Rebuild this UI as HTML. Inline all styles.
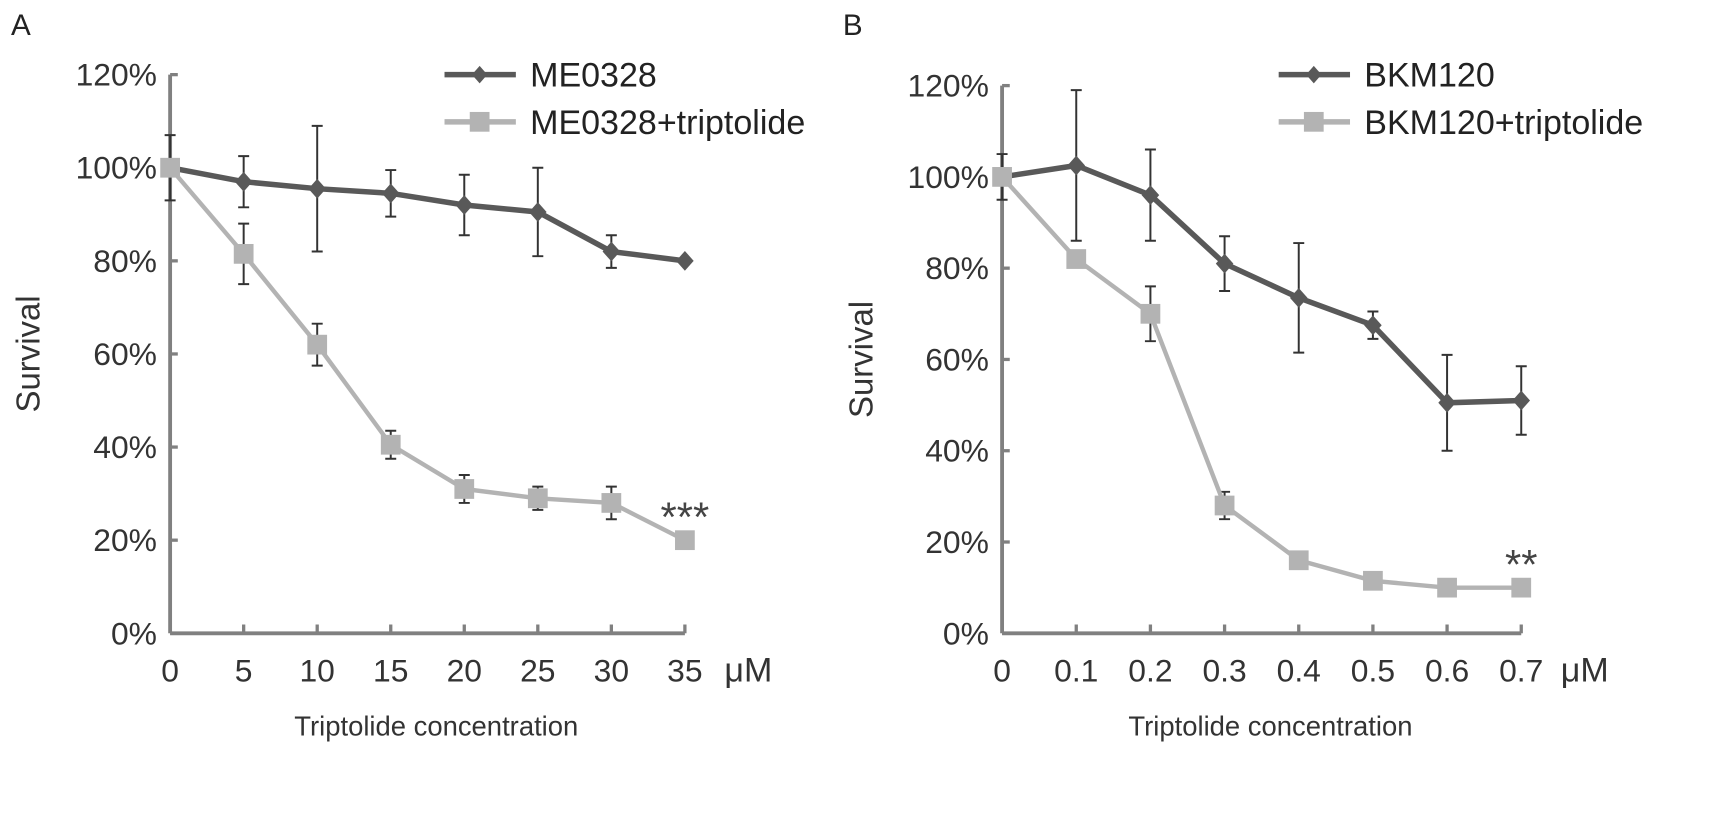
<!DOCTYPE html>
<html><head><meta charset="utf-8"><style>
html,body{margin:0;padding:0;background:#fff;}
svg{display:block;font-family:"Liberation Sans",Arial,sans-serif;}
</style></head><body>
<svg id="chart" width="1721" height="827" viewBox="0 0 1568 753.5" preserveAspectRatio="none" xmlns="http://www.w3.org/2000/svg"></svg>
<script>
const catsA = ["0","5","10","15","20","25","30","35"];
const meValues = [100,97,95.5,94.5,92,90.5,82,80];
const meErrors = [7,5.5,13.5,5,6.5,9.5,3.5,0];
const meTripValues = [100,81.5,62,40.5,31,29,28,20];
const meTripErrors = [0,6.5,4.5,3,3,2.5,3.5,0];
const catsB = ["0","0.1","0.2","0.3","0.4","0.5","0.6","0.7"];
const bkmValues = [100,102.5,96,81,73.5,67.5,50.5,51];
const bkmErrors = [5,16.5,10,6,12,3,10.5,7.5];
const bkmTripValues = [100,82,70,28,16,11.5,10,10];
const bkmTripErrors = [0,0,6,3,0,0,0,0];
const yTicks = [0,20,40,60,80,100,120];
const yTickLabels = ["0%","20%","40%","60%","80%","100%","120%"];

const NS="http://www.w3.org/2000/svg";
const svg=document.getElementById('chart');
function mk(tag,attrs,parent,text){const e=document.createElementNS(NS,tag);for(const k in attrs)e.setAttribute(k,attrs[k]);if(text!==undefined)e.textContent=text;(parent||svg).appendChild(e);return e;}
const DARK="#595959",LIGHT="#b3b3b3",AX="#808080",TXT="#333";

function panel(cfg){
  const g=mk('g',{});
  
  
  const n=cfg.cats.length;
  const x=i=>cfg.x0+i*(cfg.x1-cfg.x0)/(n-1);
  const y=v=>cfg.y0-v*(cfg.y0-cfg.yTop)/120;
  let a=mk('line',{x1:cfg.x0,y1:cfg.y0,x2:cfg.x1,y2:cfg.y0,stroke:AX,'stroke-width':3.5},g);
  
  a=mk('line',{x1:cfg.x0,y1:cfg.y0,x2:cfg.x0,y2:cfg.yTop,stroke:AX,'stroke-width':3.5},g);
  
  yTicks.forEach((t,i)=>{
    mk('line',{x1:cfg.x0,y1:y(t),x2:cfg.x0+7,y2:y(t),stroke:AX,'stroke-width':3},g);
    const tl=mk('text',{x:cfg.x0-12,y:y(t)+10,'text-anchor':'end','font-size':29,fill:TXT},g,yTickLabels[i]);
    
  });
  cfg.cats.forEach((c,i)=>{
    if(i>0)mk('line',{x1:x(i),y1:cfg.y0,x2:x(i),y2:cfg.y0-8,stroke:AX,'stroke-width':3},g);
    const tl=mk('text',{x:x(i),y:cfg.y0+44,'text-anchor':'middle','font-size':29,fill:TXT},g,c);
    
  });
  let t=mk('text',{x:x(n-1)+36,y:cfg.y0+44,'font-size':31,fill:TXT},g,'μM');
  
  t=mk('text',{x:(cfg.x0+cfg.x1)/2+8,y:cfg.y0+93,'text-anchor':'middle','font-size':25,fill:TXT},g,'Triptolide concentration');
  
  t=mk('text',{x:cfg.yl,y:(cfg.y0+cfg.yTop)/2,'text-anchor':'middle','font-size':30,fill:TXT,transform:`rotate(-90 ${cfg.yl} ${(cfg.y0+cfg.yTop)/2})`},g,'Survival');
  
  t=mk('text',{x:cfg.lx,y:32,'font-size':27,fill:'#222'},g,cfg.letter);
  

  function series(vals,errs,color,marker,name){
    const sg=mk('g',{},g);
    
    vals.forEach((v,i)=>{
      const e=errs[i]; if(e>0){
        const eb=mk('path',{d:`M${x(i)},${y(v)}V${y(v+e)}M${x(i)-5},${y(v+e)}H${x(i)+5}M${x(i)},${y(v)}V${y(v-e)}M${x(i)-5},${y(v-e)}H${x(i)+5}`,stroke:'#333','stroke-width':1.8,fill:'none'},sg);
        
      }
    });
    const ln=mk('polyline',{points:vals.map((v,i)=>x(i)+','+y(v)).join(' '),fill:'none',stroke:color,'stroke-width':marker==='sq'?4:5},sg);
    
    vals.forEach((v,i)=>{
      let m;
      if(marker==='sq') m=mk('rect',{x:x(i)-9,y:y(v)-9,width:18,height:18,fill:color},sg);
      else m=mk('path',{d:`M${x(i)},${y(v)-9}L${x(i)+8},${y(v)}L${x(i)},${y(v)+9}L${x(i)-8},${y(v)}Z`,fill:color},sg);
      
    });
    return sg;
  }
  series(cfg.v1,cfg.e1,DARK,'di',cfg.s1+'-series');
  series(cfg.v2,cfg.e2,LIGHT,'sq',cfg.s2+'-series');
  t=mk('text',{x:x(n-1),y:y(cfg.v2[n-1])+cfg.starDy,'text-anchor':'middle','font-size':38,fill:'#444'},g,cfg.star);
  
  const L=mk('g',{},g);
  [[cfg.s1,DARK,'di',68],[cfg.s2,LIGHT,'sq',111]].forEach(([lab,col,mkr,ly])=>{
    const le=mk('g',{},L);
    mk('line',{x1:cfg.legX,y1:ly,x2:cfg.legX+65,y2:ly,stroke:col,'stroke-width':5},le);
    const cx=cfg.legX+32;
    if(mkr==='sq')mk('rect',{x:cx-9,y:ly-9,width:18,height:18,fill:col},le);
    else mk('path',{d:`M${cx},${ly-8}L${cx+7},${ly}L${cx},${ly+8}L${cx-7},${ly}Z`,fill:col},le);
    mk('text',{x:cfg.legX+78,y:ly+11,'font-size':31,fill:'#222'},le,lab);
  });
}
panel({name:'panel-a',letter:'A',lx:10,cats:catsA,x0:155,x1:624,y0:577,yTop:68,yl:36,legX:405,
  v1:meValues,e1:meErrors,v2:meTripValues,e2:meTripErrors,s1:'ME0328',s2:'ME0328+triptolide',star:'***',starDy:-8});
panel({name:'panel-b',letter:'B',lx:768,cats:catsB,x0:913,x1:1386,y0:577,yTop:78,yl:795,legX:1165,
  v1:bkmValues,e1:bkmErrors,v2:bkmTripValues,e2:bkmTripErrors,s1:'BKM120',s2:'BKM120+triptolide',star:'**',starDy:-8});
</script>
</body></html>
